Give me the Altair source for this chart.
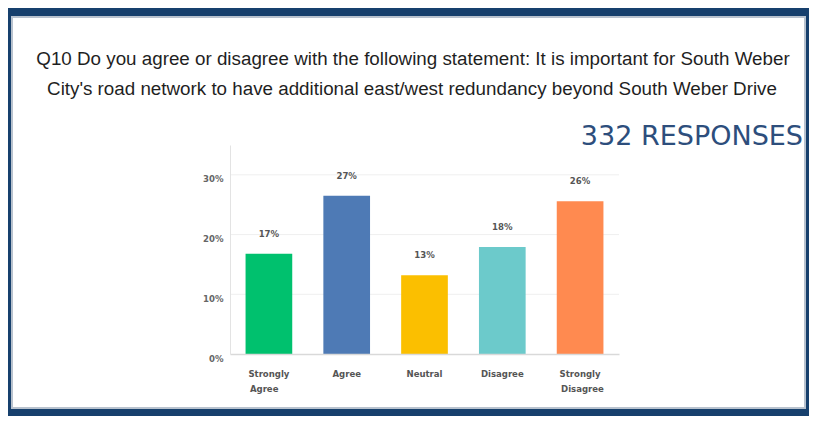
import altair as alt
import pandas as pd

categories = ["Strongly Agree", "Agree", "Neutral", "Disagree", "Strongly Disagree"]
line1 = ["Strongly", "Agree", "Neutral", "Disagree", "Strongly"]
line2 = ["Agree", "", "", "", "Disagree"]
values = [16.8, 26.5, 13.2, 17.9, 25.6]
labels = ["17%", "27%", "13%", "18%", "26%"]
colors = ["#00c16e", "#4e7ab5", "#fbbf00", "#6ccacb", "#ff8a50"]
y_ticks = [0, 10, 20, 30]
grid_ticks = [10, 20, 30]
title_line1 = ["Q10 Do you agree or disagree with the following statement: It is important for South Weber"]
title_line2 = ["City's road network to have additional east/west redundancy beyond South Weber Drive"]
responses = ["332 RESPONSES"]

NARROW = "DejaVu Sans Condensed, Liberation Sans, sans-serif"
TITLE_FONT = "Liberation Sans, Arial, sans-serif"

df = pd.DataFrame({"cat": categories, "l1": line1, "l2": line2,
                   "value": values, "label": labels, "color": colors})
grid_df = pd.DataFrame({"t": grid_ticks})
one = pd.DataFrame({"txt": responses})
t1 = pd.DataFrame({"txt": title_line1})
t2 = pd.DataFrame({"txt": title_line2})

x = alt.X("cat:N", sort=categories,
          scale=alt.Scale(paddingInner=0.4, paddingOuter=0.2),
          axis=alt.Axis(labels=False, ticks=False, title=None, domainColor="#d9d9d9",
                        domainWidth=1.5, zindex=1))
yscale = alt.Scale(domain=[0, 35])

panel = alt.Chart(one).mark_rect(fill="white", stroke="#b8c2ce", strokeWidth=2).encode(
    x=alt.value(-218), x2=alt.value(575), y=alt.value(-128), y2=alt.value(263))

grid = alt.Chart(grid_df).mark_rule(color="#efefef", strokeWidth=1).encode(
    y=alt.Y("t:Q", scale=yscale))

bars = alt.Chart(df).mark_bar().encode(
    x=x,
    y=alt.Y("value:Q", scale=yscale,
            axis=alt.Axis(values=y_ticks, labelExpr="datum.value + '%'", title=None,
                          grid=False, ticks=False, domainColor="#e3e3e3",
                          labelPadding=7, labelOffset=4, labelFont=NARROW,
                          labelFontSize=9.5, labelFontWeight="bold",
                          labelColor="#666666", zindex=1)),
    color=alt.Color("color:N", scale=None),
)

bar_labels = alt.Chart(df).mark_text(dy=-20, baseline="middle", font=NARROW, fontSize=9.5,
                                     fontWeight="bold", color="#555555").encode(
    x=x, y=alt.Y("value:Q", scale=yscale), text="label:N")

xl1 = alt.Chart(df).mark_text(baseline="middle", font=NARROW, fontSize=9.5,
                              fontWeight="bold", color="#555555").encode(
    x=x, y=alt.value(229), text="l1:N")
xl2 = alt.Chart(df).mark_text(baseline="middle", align="left", dx=-19, font=NARROW,
                              fontSize=9.5, fontWeight="bold", color="#555555").encode(
    x=x, y=alt.value(244), text="l2:N")

title1 = alt.Chart(t1).mark_text(align="center", baseline="middle", font=TITLE_FONT,
                                 fontSize=18.8, color="#1f1f1f").encode(
    x=alt.value(183), y=alt.value(-86), text="txt:N")
title2 = alt.Chart(t2).mark_text(align="center", baseline="middle", font=TITLE_FONT,
                                 fontSize=18.8, color="#1f1f1f").encode(
    x=alt.value(182), y=alt.value(-56), text="txt:N")

resp = alt.Chart(one).mark_text(align="right", baseline="middle", font="DejaVu Sans",
                                fontSize=27, color="#2d4e7c").encode(
    x=alt.value(573), y=alt.value(-8), text="txt:N")

chart = alt.layer(panel, grid, bars, bar_labels, xl1, xl2, title1, title2, resp).properties(
    width=389, height=209,
    autosize="none",
    padding={"left": 222, "top": 137, "right": 190, "bottom": 62},
).configure(background="#17406d").configure_view(stroke=None)

chart.save("out.html", embed_options={"renderer": "svg", "actions": False})
